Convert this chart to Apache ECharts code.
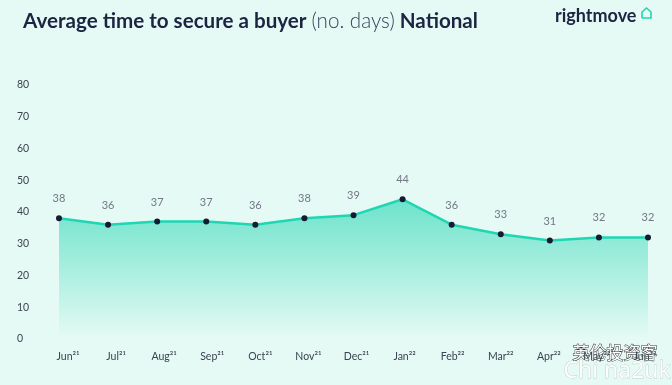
<!DOCTYPE html>
<html>
<head>
<meta charset="utf-8">
<script src="https://cdn.jsdelivr.net/npm/echarts@6/dist/echarts.min.js"></script>
<style>
html,body{margin:0;padding:0;background:#e5faf4;}
#c{width:672px;height:385px;}
</style>
</head>
<body>
<div id="c"></div>
<script>
const months = ['Jun','Jul','Aug','Sep','Oct','Nov','Dec','Jan','Feb','Mar','Apr','May','Jun'];
const years = ['21','21','21','21','21','21','21','22','22','22','22','22','22'];
const days = [38,36,37,37,36,38,39,44,36,33,31,32,32];
const yMin = 0, yMax = 80, yStep = 10;

const sup = {'0':'⁰','1':'¹','2':'²','3':'³','4':'⁴','5':'⁵','6':'⁶','7':'⁷','8':'⁸','9':'⁹'};
const toSup = s => s.split('').map(c=>sup[c]).join('');
const cats = months.map((m,i)=>m+years[i]);
const chart = echarts.init(document.getElementById('c'));
const font = 'Lato, "Open Sans", sans-serif';
chart.setOption({
  backgroundColor:'#e5faf4',
  animation:false,
  title:{
    left:18, top:6,
    text:'{b|Average time to secure a buyer} {l|(no. days)} {b|National}',
    textStyle:{rich:{
      b:{fontFamily:font,fontWeight:'bold',fontSize:20.6,color:'#1d2442'},
      l:{fontFamily:font,fontWeight:300,fontSize:20.6,color:'#3a4060'}
    }}
  },
  grid:[
    {left:59,right:24,top:85,bottom:46},
    {left:68,right:27,top:85,bottom:46}
  ],
  xAxis:[
    {type:'category',gridIndex:0,data:cats,boundaryGap:false,
     axisLine:{show:false},axisTick:{show:false},axisLabel:{show:false},splitLine:{show:false}},
    {type:'category',gridIndex:1,data:cats,boundaryGap:false,
     axisLine:{show:false},axisTick:{show:false},splitLine:{show:false},
     axisLabel:{margin:12,interval:0,fontFamily:font,fontSize:10.5,color:'#3b4252',
       formatter:(v,i)=>months[i]+toSup(years[i])}}
  ],
  yAxis:[
    {type:'value',gridIndex:0,min:yMin,max:yMax,interval:yStep,
     axisLine:{show:false},axisTick:{show:false},splitLine:{show:false},
     axisLabel:{align:'left',margin:42,fontFamily:font,fontSize:10.5,color:'#3b4252'}},
    {type:'value',gridIndex:1,min:yMin,max:yMax,interval:yStep,show:false}
  ],
  series:[{
    type:'line',xAxisIndex:0,yAxisIndex:0,data:days,
    symbol:'circle',symbolSize:6,
    itemStyle:{color:'#161b33'},
    lineStyle:{color:'#1fd6b2',width:2.5},
    areaStyle:{color:new echarts.graphic.LinearGradient(0,0,0,1,[
      {offset:0,color:'#6ce3cb'},{offset:1,color:'#e5faf4'}
    ]),opacity:1},
    label:{show:true,position:'top',distance:11,fontFamily:font,fontSize:11,color:'#737885'}
  }],
  graphic:[
    {type:'text',left:555,top:7,style:{text:'rightmove',fontFamily:font,fontWeight:'bold',fontSize:18,fill:'#1d2442'}},
    {type:'polyline',shape:{points:[[642,18],[642,12],[646.5,8],[651,12],[651,18],[642,18]]},
     style:{stroke:'#1fd6b2',lineWidth:1.6,fill:null}},
    {type:'text',left:572,top:344,style:{text:'英伦投资客',fontFamily:'"Noto Sans CJK SC"',fontSize:17,fill:'#ffffff',stroke:'#333',lineWidth:1}},
    {type:'text',left:563,top:360,style:{text:'Chi na2uk',fontFamily:'"Noto Sans"',fontSize:23,fill:'rgba(255,255,255,0.9)',stroke:'rgba(120,130,130,0.35)',lineWidth:0.8}}
  ]
});
</script>
</body>
</html>
